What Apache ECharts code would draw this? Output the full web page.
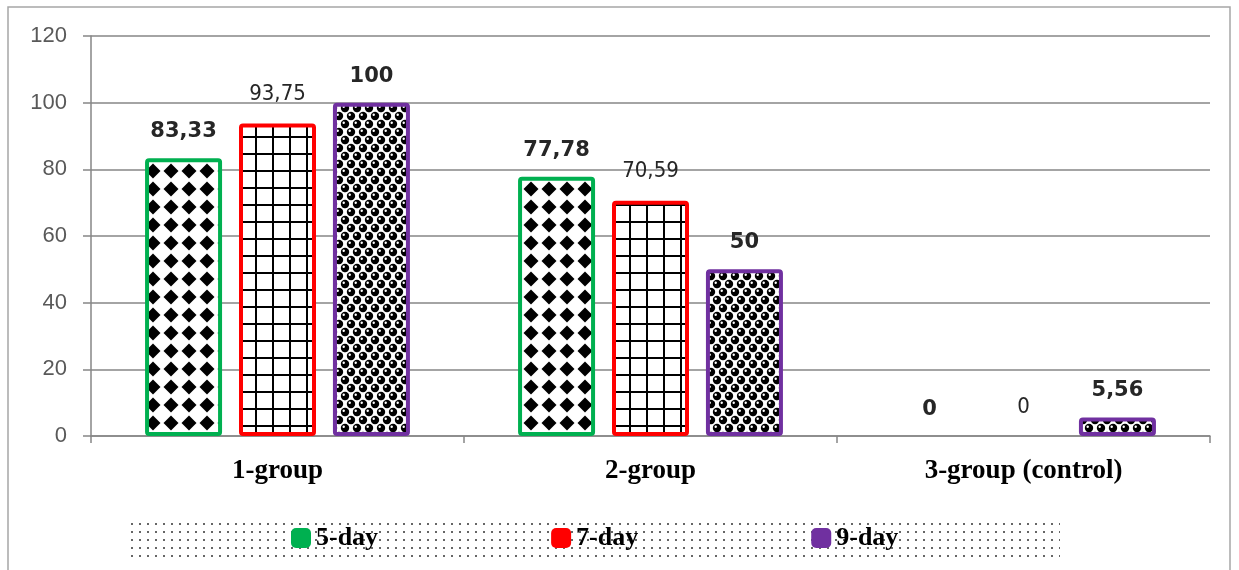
<!DOCTYPE html>
<html>
<head>
<meta charset="utf-8">
<script src="https://cdn.jsdelivr.net/npm/echarts@6/dist/echarts.min.js"></script>
<style>
  html, body { margin: 0; padding: 0; background: #fff; }
  #chart { width: 1239px; height: 570px; }
</style>
</head>
<body>
<div id="chart"></div>
<script>
'use strict';
// data
const groups = ['1-group', '2-group', '3-group (control)'];
const day5 = [83.33, 77.78, 0];
const day7 = [93.75, 70.59, 0];
const day9 = [100, 50, 5.56];
const yTicks = [0, 20, 40, 60, 80, 100, 120];

// little canvas tiles for the hatch fills
function makeTile(w, h, draw) {
  var c = document.createElement('canvas');
  c.width = w; c.height = h;
  var ctx = c.getContext('2d');
  ctx.fillStyle = '#fff';
  ctx.fillRect(0, 0, w, h);
  draw(ctx);
  return c;
}

var diamondTile = makeTile(18, 18, function(ctx) {
  ctx.fillStyle = '#000';
  ctx.beginPath();
  ctx.moveTo(9, 1.5); ctx.lineTo(16.5, 9); ctx.lineTo(9, 16.5); ctx.lineTo(1.5, 9);
  ctx.closePath();
  ctx.fill();
});

var gridTile = makeTile(17, 17, function(ctx) {
  ctx.fillStyle = '#000';
  ctx.fillRect(0, 0, 2, 17);
  ctx.fillRect(0, 0, 17, 2);
});

var ballTile = makeTile(12, 16, function(ctx) {
  function ball(x, y) {
    ctx.fillStyle = '#000';
    ctx.beginPath(); ctx.arc(x, y, 4.2, 0, Math.PI * 2); ctx.fill();
    ctx.fillStyle = '#fff';
    ctx.beginPath(); ctx.arc(x - 1.3, y - 1.3, 1.2, 0, Math.PI * 2); ctx.fill();
  }
  ball(3, 4); ball(15, 4); ball(9, 12); ball(-3, 12);
  ball(3, 20); ball(9, -4);
});

var dotTile = makeTile(8, 8, function(ctx) {
  ctx.fillStyle = '#666';
  ctx.fillRect(3, 3, 2, 2);
});

function pat(tile) {
  return { image: tile, repeat: 'repeat' };
}

function fmt(p) {
  return String(p.value).replace('.', ',');
}

// zero bars draw nothing, only their label
function barData(values) {
  return values.map(function(v) {
    if (v === 0) return { value: v, itemStyle: { borderWidth: 0, color: 'rgba(0,0,0,0)' } };
    return v;
  });
}

var boldLabel = {
  show: true, position: 'top', distance: 16, formatter: fmt,
  fontFamily: 'DejaVu Sans', fontWeight: 'bold', fontSize: 21, color: '#262626'
};
var narrowLabel = {
  show: true, position: 'top', distance: 18, formatter: fmt,
  fontFamily: '"DejaVu Sans Condensed", "Liberation Sans Narrow", "Liberation Sans", sans-serif',
  fontSize: 22, color: '#262626'
};

var myChart = echarts.init(document.getElementById('chart'));

var option = {
  backgroundColor: '#fff',
  animation: false,
  graphic: [
    { type: 'rect', z: -10, shape: { x: 8, y: 7, width: 1222, height: 580 },
      style: { fill: '#fff', stroke: '#a6a6a6', lineWidth: 1.5 } },
    { type: 'rect', z: -5, shape: { x: 127, y: 518, width: 933, height: 43 },
      style: { fill: pat(dotTile) } }
  ],
  grid: { left: 91, right: 29, top: 36, bottom: 134 },
  legend: {
    left: 286, top: 520,
    itemWidth: 20, itemHeight: 20, itemGap: 173,
    icon: 'roundRect',
    textStyle: { fontFamily: '"Liberation Serif", serif', fontWeight: 'bold', fontSize: 26, color: '#000' },
    data: [
      { name: '5-day', itemStyle: { color: '#00b050', borderWidth: 0 } },
      { name: '7-day', itemStyle: { color: '#ff0000', borderWidth: 0 } },
      { name: '9-day', itemStyle: { color: '#7030a0', borderWidth: 0 } }
    ]
  },
  xAxis: {
    type: 'category',
    data: groups,
    axisLine: { lineStyle: { color: '#868686', width: 1.5 } },
    axisTick: { show: true, length: 7, lineStyle: { color: '#868686', width: 1.5 } },
    axisLabel: {
      margin: 22, fontFamily: '"Liberation Serif", serif', fontWeight: 'bold',
      fontSize: 27, color: '#000'
    }
  },
  yAxis: {
    type: 'value',
    min: yTicks[0], max: yTicks[yTicks.length - 1], interval: 20,
    axisLine: { show: true, lineStyle: { color: '#868686', width: 1.5 } },
    axisTick: { show: true, length: 8, lineStyle: { color: '#868686', width: 1.5 } },
    splitLine: { lineStyle: { color: '#868686', width: 1.5 } },
    axisLabel: { margin: 24, fontFamily: '"Liberation Sans", sans-serif', fontSize: 22, color: '#595959' }
  },
  series: [
    {
      name: '5-day', type: 'bar', data: barData(day5), barWidth: 77, barGap: '22%',
      itemStyle: { color: pat(diamondTile), borderColor: '#00b050', borderWidth: 4, borderRadius: 2 },
      label: boldLabel
    },
    {
      name: '7-day', type: 'bar', data: barData(day7), barWidth: 77,
      itemStyle: { color: pat(gridTile), borderColor: '#ff0000', borderWidth: 4, borderRadius: 2 },
      label: narrowLabel
    },
    {
      name: '9-day', type: 'bar', data: barData(day9), barWidth: 77,
      itemStyle: { color: pat(ballTile), borderColor: '#7030a0', borderWidth: 4, borderRadius: 2 },
      label: boldLabel
    }
  ]
};

myChart.setOption(option);
</script>
</body>
</html>
